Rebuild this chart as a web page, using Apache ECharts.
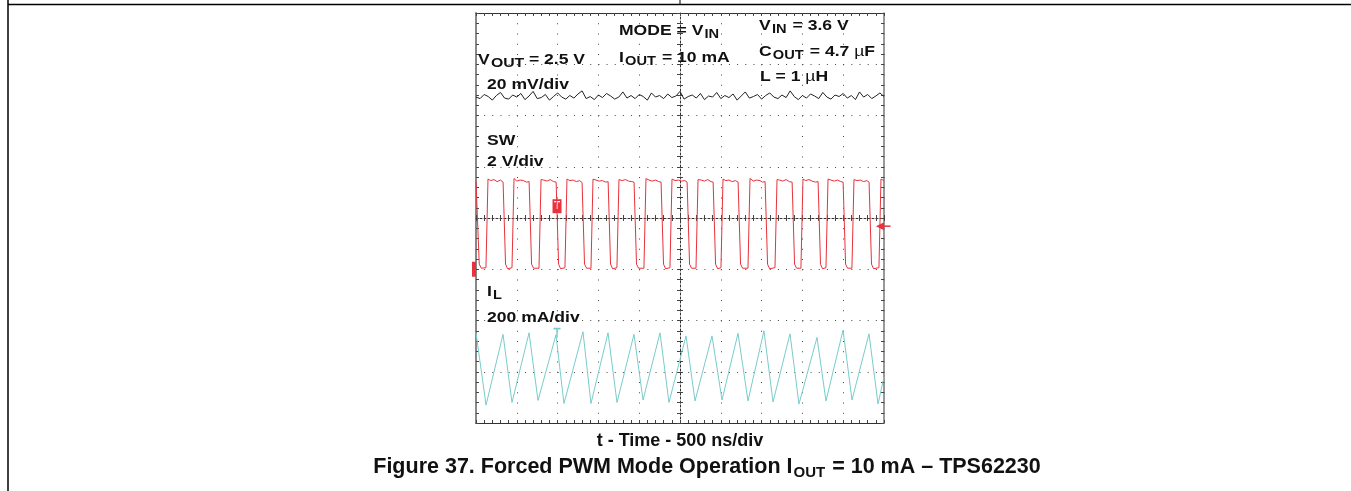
<!DOCTYPE html>
<html>
<head>
<meta charset="utf-8">
<script src="https://cdn.jsdelivr.net/npm/echarts@6/dist/echarts.min.js"></script>
<style>
  html, body { margin: 0; padding: 0; background: #fff; }
  #chart { width: 1351px; height: 491px; }
</style>
</head>
<body>
<div id="chart"></div>
<script>
// scope screen: 10 div x 500 ns, 8 div vertical (values in div, 0 = screen centre)
const timeMin = 0
const timeMax = 5000
const timeDiv = 500
const divMin = -4
const divMax = 4

// VOUT (20 mV/div), one sample every 50 ns
const voutStep = 50
const voutTrace = [
  2.36, 2.33, 2.41, 2.37, 2.30, 2.39, 2.45, 2.34, 2.32, 2.40,
  2.36, 2.43, 2.31, 2.38, 2.47, 2.33, 2.35, 2.41, 2.30, 2.37,
  2.44, 2.36, 2.32, 2.39, 2.34, 2.42, 2.48, 2.33, 2.37, 2.31,
  2.40, 2.35, 2.43, 2.38, 2.32, 2.36, 2.46, 2.34, 2.39, 2.33,
  2.41, 2.37, 2.30, 2.44, 2.36, 2.39, 2.33, 2.42, 2.35, 2.38,
  2.47, 2.32, 2.37, 2.40, 2.34, 2.43, 2.31, 2.38, 2.36, 2.45,
  2.33, 2.39, 2.35, 2.42, 2.30, 2.38, 2.46, 2.34, 2.37, 2.41,
  2.32, 2.39, 2.44, 2.36, 2.33, 2.40, 2.35, 2.48, 2.37, 2.31,
  2.39, 2.34, 2.42, 2.38, 2.33, 2.45, 2.36, 2.32, 2.40, 2.37,
  2.43, 2.34, 2.39, 2.31, 2.46, 2.36, 2.41, 2.33, 2.38, 2.44, 2.37
]

// SW node (2 V/div), [ns, div]
const swTrace = [
  [0, 0.71], [10, 0.70], [40, -0.90], [65, -0.98], [122, -0.97],
  [147, 0.76], [180, 0.73], [220, 0.75], [260, 0.71], [300, 0.74], [332, 0.70], [362, -0.90], [387, -0.99], [441, -0.97],
  [466, 0.77], [500, 0.72], [540, 0.74], [580, 0.73], [620, 0.70], [651, 0.71], [681, -0.90], [706, -0.98], [772, -0.98],
  [797, 0.75], [830, 0.74], [870, 0.72], [910, 0.75], [950, 0.71], [982, 0.70], [1012, -0.90], [1037, -0.99], [1090, -0.97],
  [1115, 0.76], [1150, 0.73], [1190, 0.74], [1230, 0.71], [1270, 0.73], [1300, 0.69], [1330, -0.90], [1355, -0.98], [1409, -0.98],
  [1434, 0.76], [1470, 0.74], [1510, 0.72], [1550, 0.73], [1590, 0.70], [1619, 0.71], [1649, -0.90], [1674, -0.99], [1727, -0.97],
  [1752, 0.75], [1790, 0.73], [1830, 0.75], [1870, 0.72], [1910, 0.71], [1937, 0.70], [1967, -0.90], [1992, -0.98], [2058, -0.98],
  [2083, 0.77], [2120, 0.74], [2160, 0.72], [2200, 0.74], [2240, 0.71], [2268, 0.70], [2298, -0.90], [2323, -0.99], [2377, -0.97],
  [2402, 0.76], [2440, 0.73], [2480, 0.74], [2520, 0.72], [2560, 0.73], [2587, 0.70], [2617, -0.90], [2642, -0.98], [2696, -0.98],
  [2721, 0.75], [2760, 0.74], [2800, 0.72], [2840, 0.75], [2880, 0.71], [2906, 0.70], [2936, -0.90], [2961, -0.99], [3002, -0.97],
  [3027, 0.76], [3060, 0.73], [3100, 0.74], [3140, 0.71], [3180, 0.73], [3212, 0.70], [3242, -0.90], [3267, -0.98], [3333, -0.98],
  [3358, 0.77], [3400, 0.72], [3440, 0.74], [3480, 0.73], [3510, 0.70], [3543, 0.71], [3573, -0.90], [3598, -0.99], [3664, -0.97],
  [3689, 0.75], [3720, 0.74], [3760, 0.72], [3800, 0.75], [3840, 0.71], [3874, 0.70], [3904, -0.90], [3929, -0.98], [3982, -0.98],
  [4007, 0.76], [4040, 0.73], [4080, 0.75], [4120, 0.72], [4160, 0.70], [4192, 0.71], [4222, -0.90], [4247, -0.99], [4289, -0.97],
  [4314, 0.76], [4350, 0.74], [4390, 0.72], [4430, 0.74], [4470, 0.71], [4499, 0.70], [4529, -0.90], [4554, -0.98], [4607, -0.98],
  [4632, 0.75], [4670, 0.73], [4710, 0.74], [4750, 0.71], [4790, 0.73], [4817, 0.70], [4847, -0.90], [4872, -0.99], [4938, -0.97],
  [4963, 0.76], [4985, 0.74], [5000, 0.73]
]

// inductor current (200 mA/div), [ns, div]
const ilTrace = [
  [0, -2.24], [123, -3.65], [331, -2.27], [441, -3.60], [650, -2.24], [760, -3.56],
  [980, -2.28], [1078, -3.62], [1311, -2.22], [1409, -3.62], [1618, -2.24], [1728, -3.60],
  [1936, -2.27], [2047, -3.55], [2255, -2.24], [2365, -3.60], [2574, -2.30], [2684, -3.57],
  [2892, -2.30], [3015, -3.55], [3211, -2.25], [3333, -3.57], [3529, -2.20], [3640, -3.59],
  [3848, -2.26], [3958, -3.63], [4179, -2.33], [4289, -3.57], [4498, -2.19], [4608, -3.55],
  [4816, -2.26], [4927, -3.63], [5000, -3.10]
]

const trigTime = 993
const trigLevel = -0.16
const swGround = -1.0

const RED = '#e8323c'
const CYAN = '#79cccc'
const FONT = '"Liberation Sans", Arial, Helvetica, sans-serif'

const chart = echarts.init(document.getElementById('chart'))

function frameAxis(dim, extra) {
  const base = {
    type: 'value',
    min: dim === 'x' ? timeMin : divMin,
    max: dim === 'x' ? timeMax : divMax,
    interval: dim === 'x' ? timeDiv : 1,
    axisLabel: { show: false },
    axisLine: { show: true, onZero: false, lineStyle: { color: '#333', width: 1 } },
    axisTick: { show: true, inside: true, length: 3, lineStyle: { color: '#444' } },
    minorTick: { show: true, splitNumber: 5, length: 3, lineStyle: { color: '#444' } },
    splitLine: { show: false },
  }
  return Object.assign(base, extra)
}

const xAxes = [
  frameAxis('x', {
    position: 'bottom',
    splitLine: { show: true, lineStyle: { color: '#444', width: 1, type: [1, 9.25] } },
  }),
  frameAxis('x', { position: 'top' }),
  // centre horizontal line, ticks on both sides
  frameAxis('x', {
    position: 'bottom', offset: -205,
    axisLine: { show: true, onZero: false, lineStyle: { color: '#333', width: 1, type: [2, 2] } },
  }),
  frameAxis('x', {
    position: 'bottom', offset: -205,
    axisLine: { show: false },
    axisTick: { show: true, inside: false, length: 3, lineStyle: { color: '#444' } },
  }),
]

const yAxes = [
  frameAxis('y', {
    position: 'left',
    axisLine: { show: true, onZero: false, lineStyle: { color: '#888', width: 2 } },
    splitLine: { show: true, lineStyle: { color: '#444', width: 1, type: [1, 7.16] } },
  }),
  frameAxis('y', {
    position: 'right',
    axisLine: { show: true, onZero: false, lineStyle: { color: '#777', width: 1.5 } },
  }),
  frameAxis('y', {
    position: 'left', offset: -204,
    axisLine: { show: true, onZero: false, lineStyle: { color: '#333', width: 1, type: [2, 2] } },
  }),
  frameAxis('y', {
    position: 'left', offset: -204,
    axisLine: { show: false },
    axisTick: { show: true, inside: false, length: 3, lineStyle: { color: '#444' } },
  }),
]

const rich = {
  m: { fontFamily: FONT, fontWeight: 'bold', fontSize: 15, lineHeight: 15, fill: '#111' },
  s: { fontFamily: FONT, fontWeight: 'bold', fontSize: 12.5, lineHeight: 12, padding: [7, 1, 0, 1], fill: '#111' },
  w: { fontFamily: FONT, fontWeight: 'bold', fontSize: 13.5, lineHeight: 13, padding: [7, 4, 0, 1], fill: '#111' },
  u: { fontFamily: FONT, fontWeight: 'normal', fontSize: 15, lineHeight: 15, fill: '#111' },
}

function label(x, y, text) {
  return {
    type: 'text', x: x, y: y, scaleX: 1.17, z: 100,
    style: { text: text, rich: rich, align: 'left', verticalAlign: 'middle', textAlign: 'left', textVerticalAlign: 'middle' },
  }
}

const capRich = {
  m: { fontFamily: FONT, fontWeight: 'bold', fontSize: 21.5, lineHeight: 22, fill: '#111' },
  s: { fontFamily: FONT, fontWeight: 'bold', fontSize: 15, lineHeight: 15, padding: [11, 1, 0, 1], fill: '#111' },
}

const graphics = [
  // page frame
  { type: 'line', shape: { x1: 8, y1: 0, x2: 8, y2: 491 }, style: { stroke: '#000', lineWidth: 1.5 } },
  { type: 'line', shape: { x1: 8, y1: 4.5, x2: 1351, y2: 4.5 }, style: { stroke: '#000', lineWidth: 1.5 } },
  { type: 'line', shape: { x1: 680, y1: 0, x2: 680, y2: 4.5 }, style: { stroke: '#000', lineWidth: 1 } },

  label(619, 31, '{m|MODE = V}{s|IN}'),
  label(759, 26, '{m|V}{s|IN}{m| = 3.6 V}'),
  label(478, 60, '{m|V}{w|OUT}{m|= 2.5 V}'),
  label(619, 58, '{m|I}{s|OUT}{m| = 10 mA}'),
  label(759, 52, '{m|C}{s|OUT}{m| = 4.7 }{u|µ}{m|F}'),
  label(760, 77, '{m|L = 1 }{u|µ}{m|H}'),
  label(487, 85, '{m|20 mV/div}'),
  label(487, 141, '{m|SW}'),
  label(487, 162, '{m|2 V/div}'),
  label(487, 292, '{m|I}{s|L}'),
  label(487, 318, '{m|200 mA/div}'),

  {
    type: 'text', x: 680, y: 441,
    style: { text: 't - Time - 500 ns/div', font: 'bold 18px ' + FONT, fill: '#111', align: 'center', verticalAlign: 'middle', textAlign: 'center', textVerticalAlign: 'middle' },
  },
  {
    type: 'text', x: 707, y: 467,
    style: {
      text: '{m|Figure 37. Forced PWM Mode Operation I}{s|OUT}{m| = 10 mA – TPS62230}',
      rich: capRich, align: 'center', verticalAlign: 'middle', textAlign: 'center', textVerticalAlign: 'middle',
    },
  },
]

chart.setOption({
  animation: false,
  backgroundColor: '#fff',
  grid: { left: 476, right: 467, top: 13, bottom: 68, show: false, outerBoundsMode: 'none' },
  xAxis: xAxes,
  yAxis: yAxes,
  graphic: graphics,
  series: [
    {
      name: 'VOUT', type: 'line', xAxisIndex: 0, yAxisIndex: 0,
      data: voutTrace.map((v, i) => [i * voutStep, v]),
      showSymbol: false, lineStyle: { color: '#222', width: 1 }, z: 5,
    },
    {
      name: 'SW', type: 'line', xAxisIndex: 0, yAxisIndex: 0,
      data: swTrace, showSymbol: false, lineStyle: { color: RED, width: 1 }, z: 5,
      markPoint: {
        silent: true,
        data: [
          {
            coord: [trigTime, 0.23], symbol: 'rect', symbolSize: [9, 14], itemStyle: { color: RED },
            label: { show: true, formatter: 'T', color: '#fff', fontSize: 10, fontWeight: 'bold', position: 'inside' },
          },
          { coord: [timeMin, swGround], symbol: 'rect', symbolSize: [4, 15], symbolOffset: [-2, 0], itemStyle: { color: RED }, label: { show: false } },
          { coord: [timeMax, trigLevel], symbol: 'triangle', symbolSize: [8, 8], symbolRotate: 90, symbolOffset: [-4, 0], itemStyle: { color: RED }, label: { show: false } },
          { coord: [timeMax, trigLevel], symbol: 'rect', symbolSize: [7, 1.5], symbolOffset: [3, 0], itemStyle: { color: RED }, label: { show: false } },
        ],
      },
    },
    {
      name: 'IL', type: 'line', xAxisIndex: 0, yAxisIndex: 0,
      data: ilTrace, showSymbol: false, lineStyle: { color: CYAN, width: 1 }, z: 5,
      markPoint: {
        silent: true,
        data: [
          { coord: [trigTime, -2.24], symbol: 'path://M0,0H10V2H6V12H4V2H0Z', symbolSize: [7, 10], itemStyle: { color: CYAN }, label: { show: false } },
        ],
      },
    },
  ],
})
</script>
</body>
</html>
